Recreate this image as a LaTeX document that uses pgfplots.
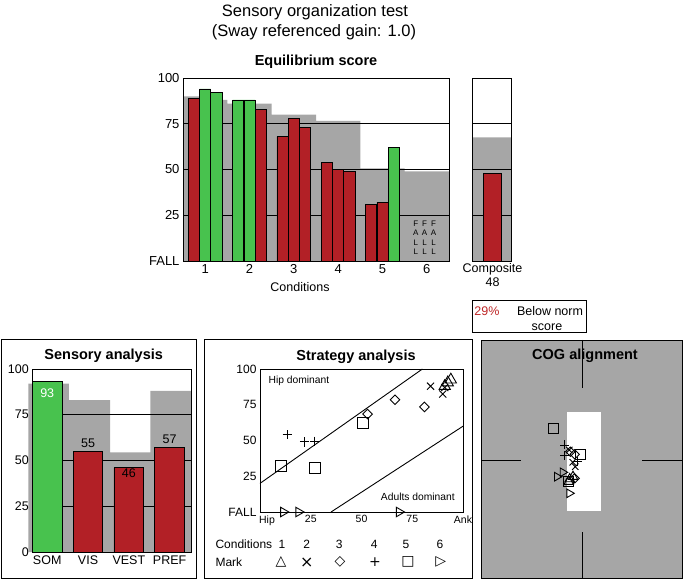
\documentclass[border=0pt]{standalone}
\usepackage{pgfplots}
\pgfplotsset{compat=1.18}
\usepackage{fontspec}
\setmainfont{Liberation Sans}
\newfontfamily\dejavu{DejaVu Sans}
\newcommand{\fs}[1]{\fontsize{#1}{#1}\selectfont}
\definecolor{normgray}{RGB}{166,166,166}
\definecolor{barred}{RGB}{178,32,38}
\definecolor{bargreen}{RGB}{72,194,78}
\definecolor{txtred}{RGB}{190,40,40}
\pgfplotsset{
  panel/.style={scale only axis, axis on top, major tick length=0pt, tick style={draw=none},
    axis line style={line width=0.9pt}, /pgf/number format/assume math mode=true},
  gl/.style={black, line width=0.9pt, forget plot},
  redbar/.style={ybar, bar shift=0pt, fill=barred, draw=black, line width=0.9pt},
  greenbar/.style={ybar, bar shift=0pt, fill=bargreen, draw=black, line width=0.9pt},
  norm/.style={fill=normgray, draw=none, const plot},
  mk/.style={only marks, black, line width=0.9pt, mark options={solid, fill=none}},
}
\begin{document}
\begin{tikzpicture}
\path[use as bounding box] (0,0) rectangle (685pt,581pt);

% titles
\node[font=\fs{16.5}] at (315pt,569pt) {Sensory organization test};
\node[font=\fs{16.5}] at (314pt,549pt) {(Sway referenced gain: 1.0)};
\node[font=\bfseries\fs{14.5}] at (316pt,519pt) {Equilibrium score};

% ---------- Equilibrium score ----------
\begin{axis}[panel, at={(183pt,320pt)}, anchor=south west, width=266pt, height=183pt,
  xmin=0.5, xmax=6.5, ymin=0, ymax=100,
  xtick={1,2,3,4,5,6}, xticklabels={1,2,3,4,5,6},
  ytick={0,25,50,75,100}, yticklabels={FALL,25,50,75,100},
  tick label style={font=\fs{13}}, bar width=0.25]
\addplot[norm] coordinates {(0.5,90) (1.375,88) (1.5,86) (2.5,80) (3.5,76.6) (4.5,50.6) (5.5,49) (6.5,49)} \closedcycle;
\addplot[gl] coordinates {(0.5,25) (6.5,25)};
\addplot[gl] coordinates {(0.5,50) (6.5,50)};
\addplot[gl] coordinates {(0.5,75) (6.5,75)};
\addplot[redbar] coordinates {(0.745,89) (2.255,83) (2.745,68) (3,78) (3.255,73) (3.745,54) (4,50) (4.255,49) (4.745,31) (5,32)};
\addplot[greenbar] coordinates {(1,94) (1.255,92) (1.745,88) (2,88) (5.255,62)};
\node[font=\fontsize{8}{9.5}\selectfont, align=center] at (axis cs:5.75,12.6) {F\\A\\L\\L};
\node[font=\fontsize{8}{9.5}\selectfont, align=center] at (axis cs:5.95,12.6) {F\\A\\L\\L};
\node[font=\fontsize{8}{9.5}\selectfont, align=center] at (axis cs:6.15,12.6) {F\\A\\L\\L};
\end{axis}
\node[font=\fs{12.5}] at (300pt,294pt) {Conditions};

% ---------- Composite ----------
\begin{axis}[panel, at={(472.7pt,320pt)}, anchor=south west, width=39pt, height=183pt,
  xmin=0, xmax=1, ymin=0, ymax=100, xtick=\empty, ytick=\empty, bar width=0.47]
\addplot[norm] coordinates {(0,67.6) (1,67.6)} \closedcycle;
\addplot[gl] coordinates {(0,25) (1,25)};
\addplot[gl] coordinates {(0,50) (1,50)};
\addplot[gl] coordinates {(0,75) (1,75)};
\addplot[redbar] coordinates {(0.5,48)};
\end{axis}
\node[font=\fs{12.5}] at (492.5pt,312pt) {Composite};
\node[font=\fs{12.5}] at (492.5pt,299pt) {48};

% below norm box
\draw[line width=0.8pt] (472.7pt,249pt) rectangle (586.5pt,281pt);
\node[font=\fs{12.5}, text=txtred] at (487pt,269.5pt) {29\%};
\node[font=\fs{12.5}] at (550pt,269.5pt) {Below norm};
\node[font=\fs{12.5}] at (547pt,253.5pt) {score};

% ---------- Sensory analysis ----------
\draw[line width=0.9pt] (1pt,3pt) rectangle (196.7pt,242pt);
\node[font=\bfseries\fs{14.5}] at (103.7pt,225pt) {Sensory analysis};
\begin{axis}[panel, at={(32.3pt,29pt)}, anchor=south west, width=159.4pt, height=183pt,
  xmin=-0.366, xmax=3.54, ymin=0, ymax=100, clip=false,
  xtick={0,1,2,3}, xticklabels={SOM,VIS,VEST,PREF},
  ytick={0,25,50,75,100}, yticklabels={0,25,50,75,100},
  tick label style={font=\fs{12.5}}, bar width=0.73]
\addplot[norm] coordinates {(-0.46,92) (0.53,83) (1.54,54.4) (2.53,88) (3.54,88)} \closedcycle;
\addplot[gl] coordinates {(-0.366,25) (3.54,25)};
\addplot[gl] coordinates {(-0.366,50) (3.54,50)};
\addplot[gl] coordinates {(-0.366,75) (3.54,75)};
\addplot[greenbar] coordinates {(0,93)};
\addplot[redbar] coordinates {(1,55) (2,46) (3,57)};
\node[font=\fs{12.5}, text=white] at (axis cs:0,87) {93};
\node[font=\fs{12.5}] at (axis cs:1,59.5) {55};
\node[font=\fs{12.5}] at (axis cs:2,43) {46};
\node[font=\fs{12.5}] at (axis cs:3,61.5) {57};
\end{axis}

% ---------- Strategy analysis ----------
\draw[line width=0.9pt] (204pt,3pt) rectangle (472.7pt,242pt);
\node[font=\bfseries\fs{14.5}] at (356pt,224pt) {Strategy analysis};
\begin{axis}[panel, at={(260pt,69pt)}, anchor=south west, width=203pt, height=143pt,
  xmin=0, xmax=100, ymin=0, ymax=100, clip=false,
  xtick={0,25,50,75,100}, xticklabels={\hspace*{14pt}Hip,25,50,75,Ank},
  ytick={0,25,50,75,100}, yticklabels={FALL,25,50,75,100},
  xticklabel style={font=\fs{10.5}}, yticklabel style={font=\fs{12}}]
\addplot[black, line width=0.9pt] coordinates {(0,20) (80,100)};
\addplot[black, line width=0.9pt] coordinates {(35,0) (100,60)};
\addplot[mk, mark=triangle, mark size=6.5] coordinates {(91,88) (92.5,90.5) (94,92.5)};
\addplot[mk, mark=x, mark size=5] coordinates {(84,88) (90,82.5) (91,87)};
\addplot[mk, mark=square, mark size=3.4, mark options={rotate=45}] coordinates {(53,68.5) (66.5,78.5) (81,73.5)};
\addplot[mk, mark=+, mark size=4.7] coordinates {(13.5,54) (22,49) (27,49.5)};
\addplot[mk, mark=square, mark size=5.5] coordinates {(10.3,32) (27,31) (50.5,62.5)};
\addplot[mk, mark=triangle, mark size=5.5, mark options={rotate=-90}] coordinates {(11.5,0) (19,0) (68.5,0)};
\node[font=\fs{10.3}, anchor=west] at (axis cs:2.5,92) {Hip dominant};
\node[font=\fs{10.3}, anchor=east] at (axis cs:97.7,10.3) {Adults dominant};
\end{axis}
\node[font=\fs{12}, anchor=west] at (212pt,36.7pt) {Conditions};
\node[font=\fs{12}, anchor=west] at (212pt,18.7pt) {Mark};
\foreach \xx/\lab in {282/1,306.7/2,339.3/3,374.3/4,406/5,440/6}{
  \node[font=\fs{12}] at (\xx pt,36.7pt) {\lab};
}
\node[font=\dejavu\fs{14}] at (281pt,18.7pt) {△};
\node[font=\dejavu\fs{16}] at (306.7pt,18.7pt) {×};
\node[font=\dejavu\fs{14}] at (340pt,18.7pt) {◇};
\node[font=\dejavu\fs{14}] at (375pt,18.7pt) {+};
\node[font=\dejavu\fs{14}] at (408pt,18.7pt) {□};
\node[font=\dejavu\fs{14}] at (440.7pt,18.7pt) {▷};

% ---------- COG alignment ----------
\begin{axis}[scale only axis, at={(481pt,3pt)}, anchor=south west, width=201pt, height=238pt,
  xmin=-101, xmax=100, ymin=-118, ymax=120, xtick=\empty, ytick=\empty,
  axis background/.style={fill=normgray}, axis line style={line width=0.9pt}, clip=false]
\addplot[fill=white, draw=none] coordinates {(-15,48) (19,48) (19,-51) (-15,-51)} -- cycle;
\addplot[gl] coordinates {(0,120) (0,72)};
\addplot[gl] coordinates {(0,-72) (0,-118)};
\addplot[gl] coordinates {(-101,0) (-61,0)};
\addplot[gl] coordinates {(60,0) (100,0)};
\addplot[mk, mark=triangle, mark size=5.5] coordinates {(-12.3,-19) (-9,-16.7) (-13.3,-21.7)};
\addplot[mk, mark=x, mark size=4.5] coordinates {(-12.7,10) (-9.3,-2.3) (-6.7,-6.7)};
\addplot[mk, mark=square, mark size=3.3, mark options={rotate=45}] coordinates {(-11.7,8.3) (-7.3,5.7) (-7.3,-18.3)};
\addplot[mk, mark=+, mark size=4.5] coordinates {(-17.3,15) (-17.3,4.3) (-4.3,-1.7)};
\addplot[mk, mark=square, mark size=5] coordinates {(-28.3,31.7) (-1.7,5.7) (-14,-21.7)};
\addplot[mk, mark=triangle, mark size=5, mark options={rotate=-90}] coordinates {(-25,-16.7) (-19.3,-12.3) (-12.7,-33.3)};
\end{axis}
\node[font=\bfseries\fs{14.5}] at (585pt,225pt) {COG alignment};
\end{tikzpicture}
\end{document}
